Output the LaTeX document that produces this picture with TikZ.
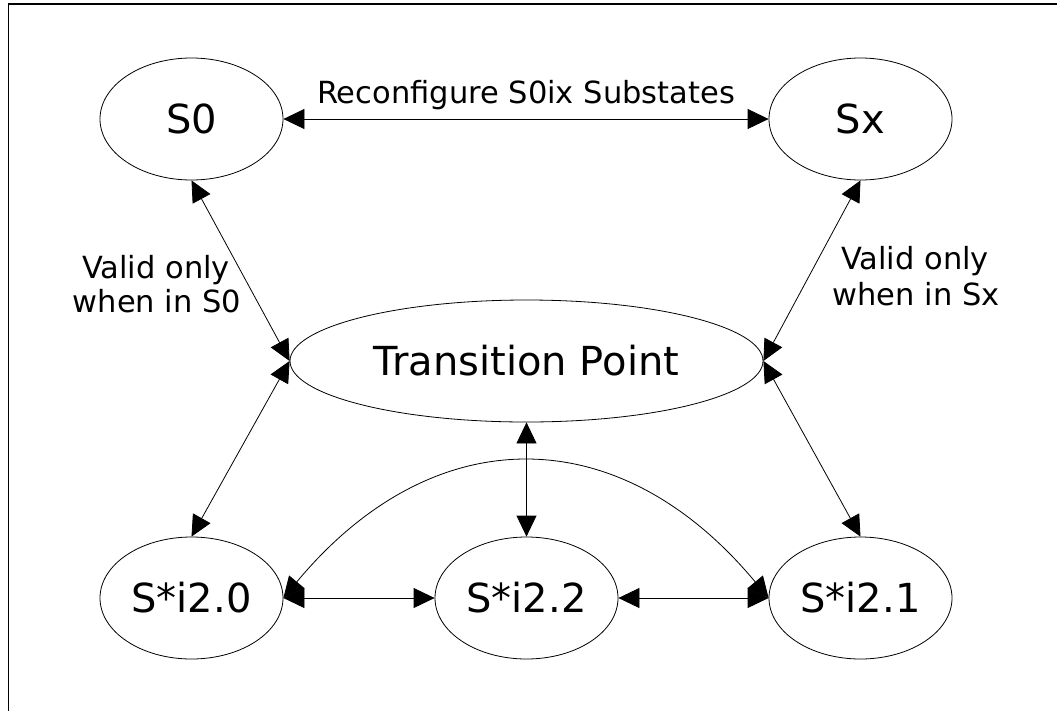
\documentclass[tikz,border=0pt]{standalone}
\usepackage{fontspec}
\setmainfont{DejaVu Sans}
\usetikzlibrary{shapes.geometric,arrows.meta}
\begin{document}
\begin{tikzpicture}[x=1pt,y=-1pt,
  state/.style={draw,line width=0.8pt,ellipse,inner sep=0pt,minimum width=183pt,minimum height=122pt,font=\fontsize{40}{48}\selectfont},
  biarrow/.style={line width=0.8pt,{Triangle[length=21pt,width=20pt]}-{Triangle[length=21pt,width=20pt]}},
  lbl/.style={font=\fontsize{30.5}{36}\selectfont,anchor=base,inner sep=0pt}]
\useasboundingbox (0,0) rectangle (1057,710);
\fill[white] (0,0) rectangle (1057,710);
\draw[line width=1.5pt] (8.5,712) -- (8.5,4) -- (1060,4);
\node[state] (s0) at (191.5,119) {S0};
\node[state] (sx) at (860.5,119) {Sx};
\node[state,minimum width=473pt] (tp) at (526.5,361) {Transition Point};
\node[state] (s20) at (191.5,598) {S*i2.0};
\node[state] (s22) at (526.5,598) {S*i2.2};
\node[state] (s21) at (860.5,598) {S*i2.1};
\draw[biarrow] (s0.east) -- (sx.west);
\draw[biarrow] (s0.south) -- (tp.west);
\draw[biarrow] (sx.south) -- (tp.east);
\draw[biarrow] (tp.west) -- (s20.north);
\draw[biarrow] (tp.east) -- (s21.north);
\draw[biarrow] (tp.south) -- (s22.north);
\draw[biarrow] (s20.east) -- (s22.west);
\draw[biarrow] (s22.east) -- (s21.west);
\draw[biarrow] (s20.east) .. controls (433,418) and (619,418) .. (s21.west);
\node[lbl] (reconf) at (526,103) {Reconfigure S0ix Substates};
\node[lbl] (v0a) at (156,278) {Valid only};
\node[lbl] (v0b) at (157,312) {when in S0};
\node[lbl] (vxa) at (915,269) {Valid only};
\node[lbl] (vxb) at (916,305) {when in Sx};
\end{tikzpicture}
\end{document}
